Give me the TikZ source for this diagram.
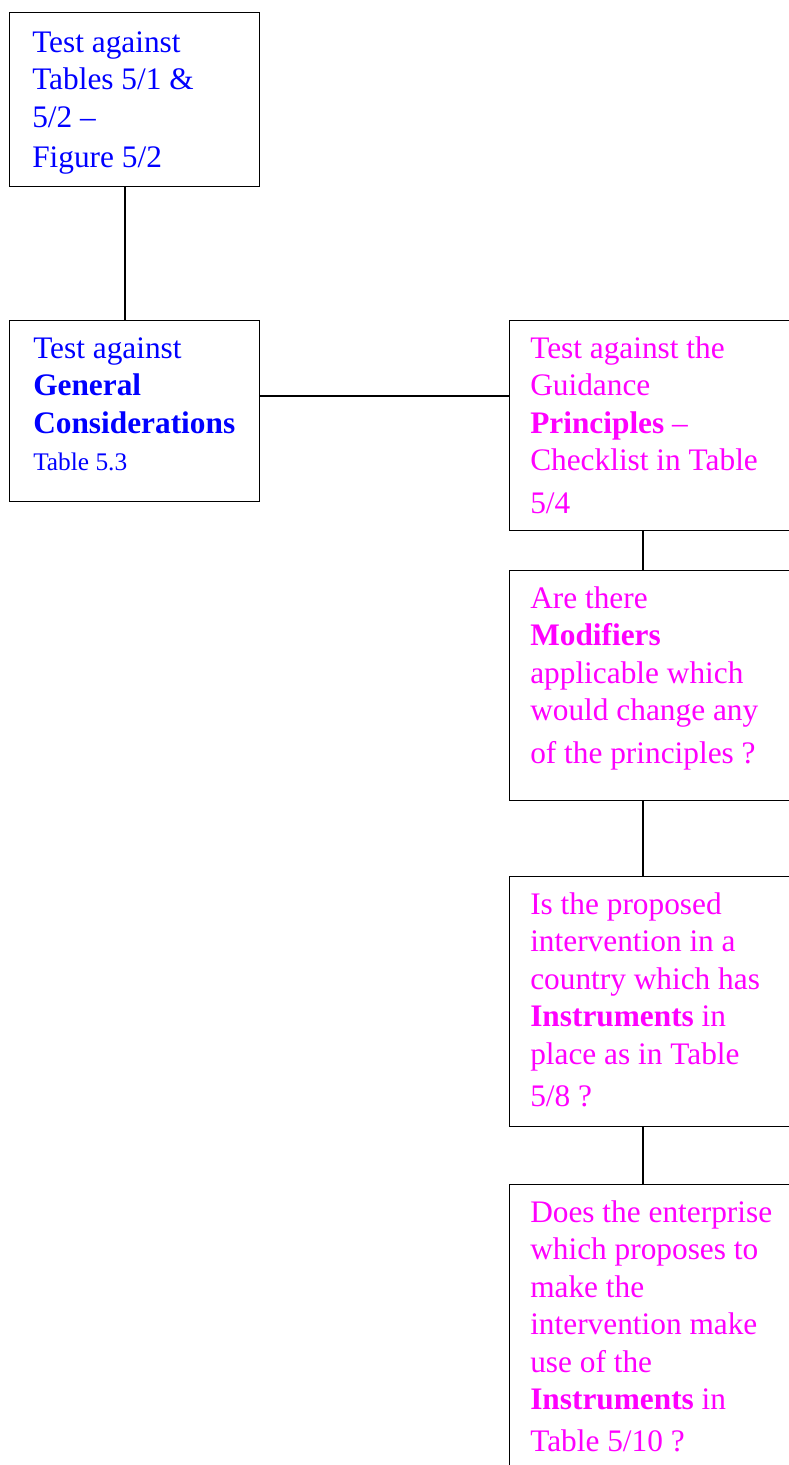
\documentclass[tikz,border=0pt]{standalone}
\usepackage{fontspec}
\setmainfont{Liberation Serif}
\definecolor{txtblue}{RGB}{0,0,255}
\definecolor{txtpink}{RGB}{255,0,255}
\tikzset{
  box/.style={draw=black, line width=1pt, rectangle, inner sep=0pt, anchor=north west},
  lbl/.style={anchor=north west, align=left, inner sep=0pt, font=\fontsize{23.5}{28.1}\selectfont},
  link/.style={draw=black, line width=1pt},
}
\begin{document}
\begin{tikzpicture}[x=0.75pt,y=-0.75pt]
	\useasboundingbox (0,0) rectangle (789,1465);
	% left column
	\node[box, minimum width=187.5pt, minimum height=130.5pt] (tables) at (9,12) {};
	\node[box, minimum width=187.5pt, minimum height=135.75pt] (general) at (9,320) {};
	% right column (runs past the page edge)
	\node[box, minimum width=233.25pt, minimum height=157.5pt] (principles) at (509,320) {};
	\node[box, minimum width=233.25pt, minimum height=172.5pt] (modifiers) at (509,570) {};
	\node[box, minimum width=233.25pt, minimum height=187.5pt] (country) at (509,876) {};
	\node[box, minimum width=233.25pt, minimum height=237pt] (enterprise) at (509,1184) {};

	\node[lbl, text=txtblue] (tablesTxt) at ([shift={(23,13.8)}]tables.north west)
		{\strut Test against\\ Tables 5/1 \&\\ 5/2 --\\[2pt] Figure 5/2};
	\node[lbl, text=txtblue] (generalTxt) at ([shift={(24,11.8)}]general.north west)
		{\strut Test against\\ \textbf{General}\\ \textbf{Considerations}\\ {\fontsize{19}{22}\selectfont Table 5.3}};
	\node[lbl, text=txtpink] (principlesTxt) at ([shift={(21,11.8)}]principles.north west)
		{\strut Test against the\\ Guidance\\ \textbf{Principles} --\\ Checklist in Table\\[4pt] 5/4};
	\node[lbl, text=txtpink] (modifiersTxt) at ([shift={(21,11.8)}]modifiers.north west)
		{\strut Are there\\ \textbf{Modifiers}\\ applicable which\\ would change any\\[4pt] of the principles ?};
	\node[lbl, text=txtpink] (countryTxt) at ([shift={(21,11.8)}]country.north west)
		{\strut Is the proposed\\ intervention in a\\ country which has\\ \textbf{Instruments} in\\ place as in Table\\[4pt] 5/8 ?};
	\node[lbl, text=txtpink] (enterpriseTxt) at ([shift={(21,11.8)}]enterprise.north west)
		{\strut Does the enterprise\\ which proposes to\\ make the\\ intervention make\\ use of the\\ \textbf{Instruments} in\\[3pt] Table 5/10 ?};

	\draw[link] (tables.south -| 125,0) -- (general.north -| 125,0);
	\draw[link] (general.east |- 0,396) -- (principles.west |- 0,396);
	\draw[link] (principles.south -| 643,0) -- (modifiers.north -| 643,0);
	\draw[link] (modifiers.south -| 643,0) -- (country.north -| 643,0);
	\draw[link] (country.south -| 643,0) -- (enterprise.north -| 643,0);
\end{tikzpicture}
\end{document}
